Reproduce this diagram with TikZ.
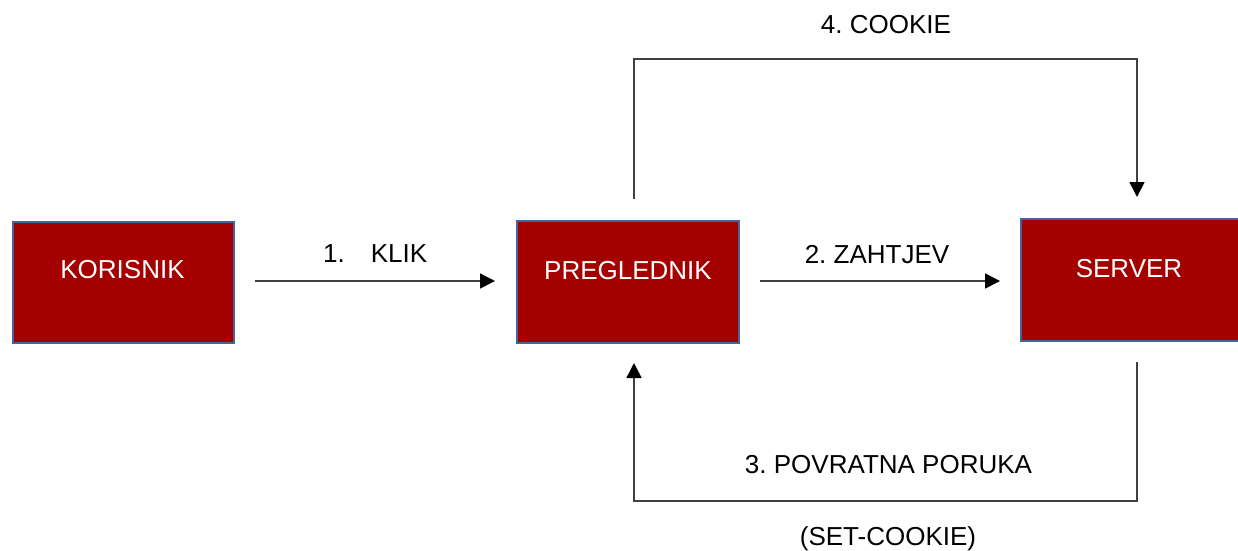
\documentclass[tikz,border=0pt]{standalone}
\usepackage{fontspec}
\setmainfont{Liberation Sans}
\frenchspacing
\usetikzlibrary{arrows.meta,calc}
\definecolor{boxred}{HTML}{A50000}
\definecolor{boxedge}{HTML}{44649B}
\definecolor{linegray}{HTML}{404040}
\tikzset{
  entity/.style={draw=boxedge, line width=2pt, fill=boxred, inner sep=0pt, anchor=north west},
  entitytext/.style={text=white, font=\fontsize{26}{30}\selectfont, inner sep=0pt, anchor=base},
  lbl/.style={text=black, font=\fontsize{26}{30}\selectfont, inner sep=0pt, anchor=base},
  conn/.style={draw=linegray, line width=1.5pt, -{Triangle[length=15pt,width=15pt,color=black]}}
}
\begin{document}
\begin{tikzpicture}[x=1pt,y=-1pt]
\useasboundingbox (0,0) rectangle (1238,550);
% boxes
\node[entity, minimum width=221pt, minimum height=121pt] (k) at (12,221) {};
\node[entity, minimum width=222pt, minimum height=122pt] (p) at (516,220) {};
\node[entity, minimum width=234pt, minimum height=122pt] (s) at (1020,218) {};
\node[entitytext] (kt) at (122.5,278) {KORISNIK};
\node[entitytext] (pt) at (628,279) {PREGLEDNIK};
\node[entitytext] (st) at (1129,277) {SERVER};
% connector end points
\coordinate (a1) at (255,281);
\coordinate (b1) at (495,281);
\coordinate (a2) at (760,281);
\coordinate (b2) at (1000,281);
\coordinate (a4) at (634,199);
\coordinate (t4l) at (634,59);
\coordinate (t4r) at (1137,59);
\coordinate (b4) at (1137,197);
\coordinate (a3) at (1137,362);
\coordinate (t3r) at (1137,501);
\coordinate (t3l) at (634,501);
\coordinate (b3) at (634,363);
% connectors
\draw[conn] (a1) -- (b1);
\draw[conn] (a2) -- (b2);
\draw[conn] (a4) -- (t4l) -- (t4r) -- (b4);
\draw[conn] (a3) -- (t3r) -- (t3l) -- (b3);
% labels
\node[lbl, anchor=base west] (l1) at (323,262) {1.\hspace{26pt}KLIK};
\node[lbl] (l2) at (877,263) {2. ZAHTJEV};
\node[lbl] (l4) at (886,33) {4. COOKIE};
\node[lbl] (l3) at (888.5,473) {3. POVRATNA PORUKA};
\node[lbl] (l3b) at (888,545) {(SET-COOKIE)};
\end{tikzpicture}
\end{document}
